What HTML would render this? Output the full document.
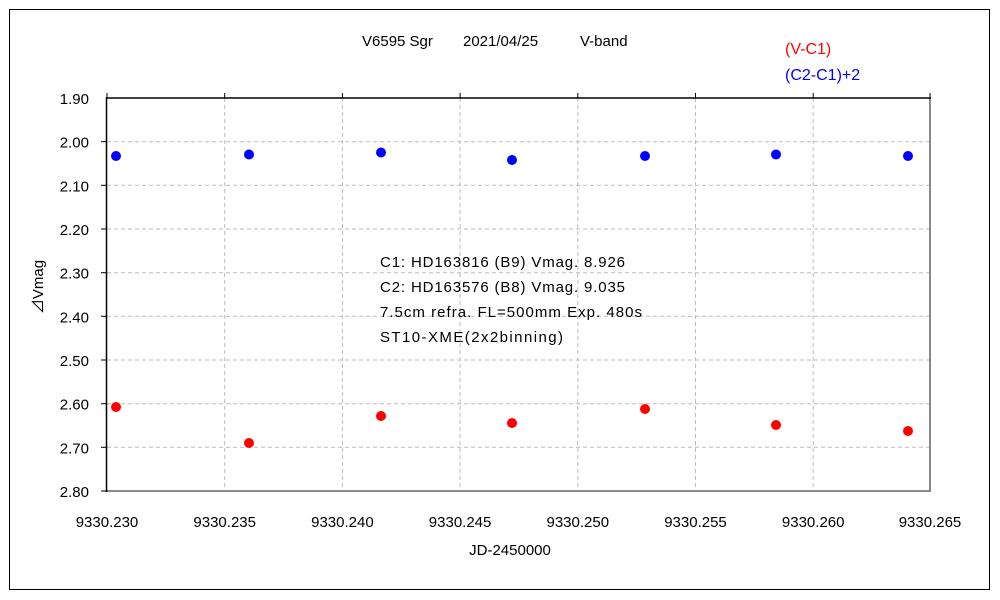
<!DOCTYPE html>
<html><head><meta charset="utf-8"><style>
html,body{margin:0;padding:0;background:#fff;}
svg{display:block;font-family:"Liberation Sans","Noto Sans CJK JP",sans-serif;}
</style></head><body>
<svg width="1000" height="600" viewBox="0 0 1000 600" xmlns="http://www.w3.org/2000/svg">
<rect x="0" y="0" width="1000" height="600" fill="#fff"/>
<rect x="9.5" y="9.5" width="980" height="580" fill="none" stroke="#000" stroke-width="1"/>
<g stroke="#bbb" stroke-dasharray="4,3" stroke-width="1">
<line x1="224.7" y1="98" x2="224.7" y2="491"/>
<line x1="342.4" y1="98" x2="342.4" y2="491"/>
<line x1="460.1" y1="98" x2="460.1" y2="491"/>
<line x1="577.8" y1="98" x2="577.8" y2="491"/>
<line x1="695.5" y1="98" x2="695.5" y2="491"/>
<line x1="813.2" y1="98" x2="813.2" y2="491"/>
<line x1="107" y1="141.7" x2="930" y2="141.7"/>
<line x1="107" y1="185.3" x2="930" y2="185.3"/>
<line x1="107" y1="229" x2="930" y2="229"/>
<line x1="107" y1="272.7" x2="930" y2="272.7"/>
<line x1="107" y1="316.3" x2="930" y2="316.3"/>
<line x1="107" y1="360" x2="930" y2="360"/>
<line x1="107" y1="403.7" x2="930" y2="403.7"/>
<line x1="107" y1="447.3" x2="930" y2="447.3"/>
</g>
<line x1="930" y1="98" x2="930" y2="491" stroke="#888" stroke-width="2"/>
<line x1="106" y1="491" x2="931" y2="491" stroke="#888" stroke-width="2"/>
<line x1="106" y1="98" x2="931" y2="98" stroke="#000" stroke-width="1.5"/>
<line x1="106.5" y1="97" x2="106.5" y2="492" stroke="#000" stroke-width="1.5"/>
<g stroke="#000" stroke-width="1">
<line x1="107" y1="93" x2="107" y2="98"/><line x1="224.7" y1="93" x2="224.7" y2="98"/><line x1="342.4" y1="93" x2="342.4" y2="98"/><line x1="460.1" y1="93" x2="460.1" y2="98"/><line x1="577.8" y1="93" x2="577.8" y2="98"/><line x1="695.5" y1="93" x2="695.5" y2="98"/><line x1="813.2" y1="93" x2="813.2" y2="98"/><line x1="930" y1="93" x2="930" y2="98"/>
<line x1="101" y1="141.7" x2="106" y2="141.7"/><line x1="101" y1="185.3" x2="106" y2="185.3"/><line x1="101" y1="229" x2="106" y2="229"/><line x1="101" y1="272.7" x2="106" y2="272.7"/><line x1="101" y1="316.3" x2="106" y2="316.3"/><line x1="101" y1="360" x2="106" y2="360"/><line x1="101" y1="403.7" x2="106" y2="403.7"/><line x1="101" y1="447.3" x2="106" y2="447.3"/><line x1="101" y1="491" x2="106" y2="491"/>
</g>
<g font-size="15" fill="#000" text-anchor="end">
<text x="89" y="104">1.90</text><text x="89" y="147.7">2.00</text><text x="89" y="191.3">2.10</text><text x="89" y="235">2.20</text><text x="89" y="278.7">2.30</text><text x="89" y="322.3">2.40</text><text x="89" y="366">2.50</text><text x="89" y="409.7">2.60</text><text x="89" y="453.3">2.70</text><text x="89" y="497">2.80</text>
</g>
<g font-size="15" fill="#000" text-anchor="middle">
<text x="107" y="527">9330.230</text><text x="224.7" y="527">9330.235</text><text x="342.4" y="527">9330.240</text><text x="460.1" y="527">9330.245</text><text x="577.8" y="527">9330.250</text><text x="695.5" y="527">9330.255</text><text x="813.2" y="527">9330.260</text><text x="930" y="527">9330.265</text>
<text x="510" y="555">JD-2450000</text>
</g>
<g font-size="15" fill="#000">
<text x="362" y="46">V6595 Sgr</text>
<text x="463" y="46">2021/04/25</text>
<text x="580" y="46">V-band</text>
</g>
<text x="0" y="0" font-size="15" text-anchor="middle" transform="translate(43,287) rotate(-90)">⊿Vmag</text>
<text x="785" y="54" font-size="16" fill="#f00">(V-C1)</text>
<text x="785" y="80" font-size="16" fill="#00f">(C2-C1)+2</text>
<g font-size="15" fill="#000">
<text x="380" y="267" textLength="245">C1: HD163816 (B9) Vmag. 8.926</text>
<text x="380" y="292" textLength="245">C2: HD163576 (B8) Vmag. 9.035</text>
<text x="380" y="317" textLength="262">7.5cm refra. FL=500mm  Exp. 480s</text>
<text x="380" y="342" textLength="183">ST10-XME(2x2binning)</text>
</g>
<g fill="#00f">
<circle cx="116" cy="156" r="5"/><circle cx="249" cy="154.5" r="5"/><circle cx="381" cy="152.5" r="5"/><circle cx="512" cy="160" r="5"/><circle cx="645" cy="156" r="5"/><circle cx="776" cy="154.5" r="5"/><circle cx="908" cy="156" r="5"/>
</g>
<g fill="#f00">
<circle cx="116" cy="407" r="5"/><circle cx="249" cy="443" r="5"/><circle cx="381" cy="416" r="5"/><circle cx="512" cy="423" r="5"/><circle cx="645" cy="409" r="5"/><circle cx="776" cy="425" r="5"/><circle cx="908" cy="431" r="5"/>
</g>
</svg>
</body></html>
